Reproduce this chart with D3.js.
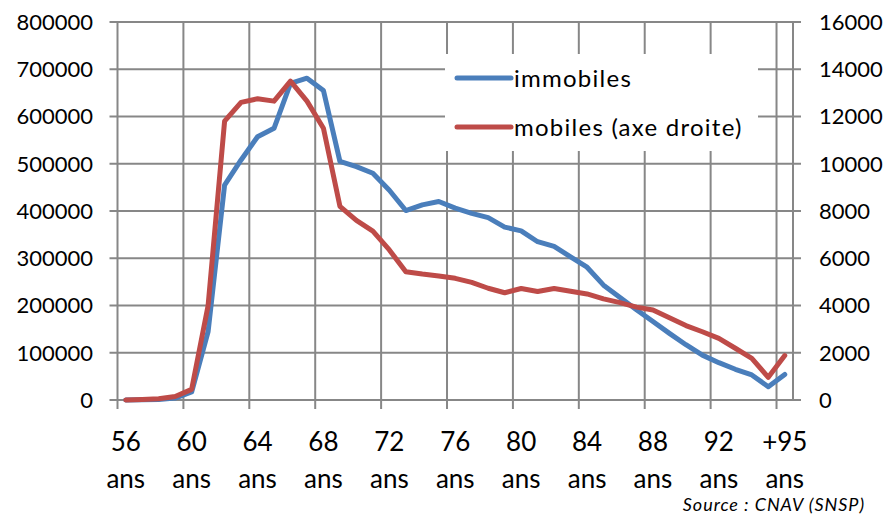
<!DOCTYPE html>
<html>
<head>
<meta charset="utf-8">
<script src="https://cdn.jsdelivr.net/npm/d3@7"></script>
<style>
  body { margin: 0; background: #fff; }
  text { font-family: Lato, "Open Sans", sans-serif; fill: #000; }
</style>
</head>
<body>
<script>
// ages 56..95 then +95
const ages = d3.range(56, 96).map(String).concat(["+95"]);
const immobiles = [0, 500, 1000, 4000, 17000, 145000, 455000, 508000, 557000, 575000,
  670000, 681000, 655000, 505000, 494000, 480000, 444000, 401000, 413000, 420000,
  406000, 395000, 386000, 366000, 358000, 335000, 325000, 303000, 281000, 243000,
  217000, 191000, 166000, 141000, 117000, 95000, 79000, 65000, 53000, 28000, 54000];
const mobiles = [0, 20, 50, 150, 450, 4000, 11800, 12600, 12750, 12650,
  13500, 12650, 11500, 8200, 7600, 7150, 6350, 5430, 5330, 5250,
  5150, 4980, 4730, 4540, 4720, 4590, 4720, 4600, 4490, 4280,
  4120, 3930, 3810, 3480, 3150, 2890, 2610, 2190, 1760, 960, 1880];
const leftTicks = d3.range(0, 800001, 100000);
const rightTicks = d3.range(0, 16001, 2000);
const seriesNames = ["immobiles", "mobiles (axe droite)"];

let width = 889, height = 515;
const mLeft = 117.5, mRight = 793, mTop = 22, mBottom = 400;
const grid = "#878787", blue = "#4a7ebb", red = "#be4b48";

let svg = d3.select("body").append("svg")
  .attr("width", width).attr("height", height);

let x = d3.scaleBand().domain(ages).range([mLeft, mRight]).padding(0);
let yL = d3.scaleLinear().domain([0, 800000]).range([mBottom, mTop]);
let yR = d3.scaleLinear().domain([0, 16000]).range([mBottom, mTop]);
const cx = a => x(a) + x.bandwidth() / 2;

// horizontal gridlines (with ticks beyond both axes)
svg.append("g").selectAll("line").data(leftTicks).enter().append("line")
  .attr("x1", mLeft - 8).attr("x2", mRight + 8)
  .attr("y1", d => yL(d)).attr("y2", d => yL(d))
  .attr("stroke", grid).attr("stroke-width", 2);

// vertical gridlines every 4 categories
let vg = ages.filter((a, i) => i % 4 == 0);
svg.append("g").selectAll("line").data(vg).enter().append("line")
  .attr("x1", d => x(d)).attr("x2", d => x(d))
  .attr("y1", mTop).attr("y2", mBottom + 9)
  .attr("stroke", grid).attr("stroke-width", 2);
svg.append("line").attr("x1", mRight).attr("x2", mRight)
  .attr("y1", mTop).attr("y2", mBottom)
  .attr("stroke", grid).attr("stroke-width", 2);

// left axis labels
svg.append("g").selectAll("text").data(leftTicks).enter().append("text")
  .attr("x", 93).attr("y", d => yL(d)).attr("dy", "0.36em")
  .attr("text-anchor", "end").style("font-size", "22px")
  .text(d => d);

// right axis labels
svg.append("g").selectAll("text").data(rightTicks).enter().append("text")
  .attr("x", 819).attr("y", d => yR(d)).attr("dy", "0.36em")
  .attr("text-anchor", "start").style("font-size", "22px")
  .text(d => d);

// bottom labels
let xl = svg.append("g").selectAll("g").data(vg).enter().append("g");
xl.append("text").attr("x", d => cx(d)).attr("y", 451)
  .attr("text-anchor", "middle").style("font-size", "26px").text(d => d);
xl.append("text").attr("x", d => cx(d)).attr("y", 488)
  .attr("text-anchor", "middle").style("font-size", "26px").text("ans");

// lines
let lineL = d3.line().x((d, i) => cx(ages[i])).y(d => yL(d));
let lineR = d3.line().x((d, i) => cx(ages[i])).y(d => yR(d));
svg.append("path").attr("d", lineL(immobiles))
  .attr("fill", "none").attr("stroke", blue).attr("stroke-width", 5)
  .attr("stroke-linejoin", "round").attr("stroke-linecap", "round");
svg.append("path").attr("d", lineR(mobiles))
  .attr("fill", "none").attr("stroke", red).attr("stroke-width", 5)
  .attr("stroke-linejoin", "round").attr("stroke-linecap", "round");

// legend
let lg = svg.append("g");
lg.append("rect").attr("x", 445).attr("y", 54).attr("width", 313).attr("height", 97)
  .attr("fill", "#fff");
let items = lg.selectAll(".leg").data(seriesNames).enter().append("g")
  .attr("transform", (d, i) => "translate(0," + (78 + i * 49) + ")");
items.append("line").attr("x1", 457).attr("x2", 511)
  .attr("stroke", (d, i) => i == 0 ? blue : red).attr("stroke-width", 5)
  .attr("stroke-linecap", "round");
items.append("text").attr("x", 514).attr("dy", "0.36em")
  .style("font-size", "24px").style("letter-spacing", "1.25px").text(d => d);

// source
svg.append("text").attr("x", 865).attr("y", 511).attr("text-anchor", "end")
  .style("font-size", "18px").style("font-style", "italic").style("letter-spacing", "0.95px")
  .text("Source : CNAV (SNSP)");
</script>
</body>
</html>
